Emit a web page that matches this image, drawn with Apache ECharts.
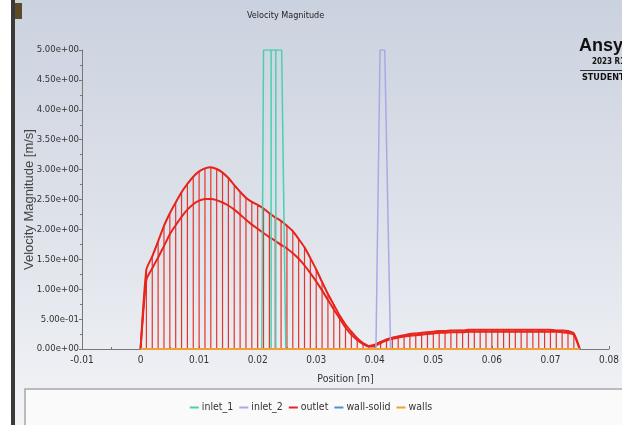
<!DOCTYPE html>
<html>
<head>
<meta charset="UTF-8">
<title>Velocity Magnitude</title>
<script src="https://cdn.jsdelivr.net/npm/echarts@6/dist/echarts.min.js"></script>
</head>
<body style="margin:0;">
<div id="main" style="width:622px;height:425px;"></div>
<script type="text/javascript">
// outlet nodes (position [m]) with two velocity branches [m/s]
var outletPos = [0, 0.001, 0.002, 0.003, 0.004, 0.005, 0.006, 0.007, 0.008, 0.009,
    0.010, 0.011, 0.012, 0.013, 0.014, 0.015, 0.016, 0.017, 0.018, 0.019,
    0.020, 0.021, 0.022, 0.023, 0.024, 0.025, 0.026, 0.027, 0.028, 0.029,
    0.030, 0.031, 0.032, 0.033, 0.034, 0.035, 0.036, 0.037, 0.038, 0.039,
    0.040, 0.041, 0.042, 0.043, 0.044, 0.045, 0.046, 0.047, 0.048, 0.049,
    0.050, 0.051, 0.052, 0.053, 0.054, 0.055, 0.056, 0.057, 0.058, 0.059,
    0.060, 0.061, 0.062, 0.063, 0.064, 0.065, 0.066, 0.067, 0.068, 0.069,
    0.070, 0.071, 0.072, 0.073, 0.074, 0.075];
var outletUpper = [0, 1.33, 1.55, 1.80, 2.06, 2.27, 2.45, 2.62, 2.76, 2.88,
    2.97, 3.02, 3.04, 3.01, 2.95, 2.86, 2.74, 2.63, 2.53, 2.46,
    2.41, 2.35, 2.27, 2.20, 2.14, 2.06, 1.97, 1.84, 1.70, 1.52,
    1.33, 1.12, 0.92, 0.74, 0.56, 0.41, 0.29, 0.18, 0.10, 0.05,
    0.07, 0.12, 0.16, 0.19, 0.21, 0.23, 0.25, 0.26, 0.27, 0.28,
    0.29, 0.30, 0.30, 0.31, 0.31, 0.31, 0.32, 0.32, 0.32, 0.32,
    0.32, 0.32, 0.32, 0.32, 0.32, 0.32, 0.32, 0.32, 0.32, 0.32,
    0.32, 0.31, 0.31, 0.30, 0.26, 0];
var outletLower = [0, 1.16, 1.35, 1.53, 1.72, 1.92, 2.07, 2.21, 2.33, 2.42,
    2.48, 2.51, 2.51, 2.49, 2.45, 2.40, 2.33, 2.25, 2.16, 2.08,
    2.01, 1.94, 1.87, 1.81, 1.74, 1.68, 1.60, 1.51, 1.40, 1.27,
    1.13, 0.98, 0.82, 0.66, 0.51, 0.36, 0.24, 0.15, 0.08, 0.04,
    0.05, 0.10, 0.14, 0.17, 0.19, 0.21, 0.22, 0.23, 0.24, 0.25,
    0.26, 0.27, 0.27, 0.28, 0.28, 0.28, 0.29, 0.29, 0.29, 0.29,
    0.29, 0.29, 0.29, 0.29, 0.29, 0.29, 0.29, 0.29, 0.29, 0.29,
    0.29, 0.29, 0.28, 0.27, 0.24, 0];

var inlet1Pos = [0.0207, 0.0210, 0.0223, 0.0223, 0.0223, 0.0231, 0.0231, 0.0231, 0.0241, 0.0248];
var inlet1Vel = [0, 5, 5, 0, 5, 5, 0, 5, 5, 0];
var inlet2Pos = [0.0402, 0.0409, 0.0417, 0.0427];
var inlet2Vel = [0, 5, 5, 0];
var wallPos = [0, 0.075];
var wallVel = [0, 0];

var legendNames = ['inlet_1', 'inlet_2', 'outlet', 'wall-solid', 'walls'];
var colors = {
    'inlet_1': '#4ccfb0',
    'inlet_2': '#a9a9e6',
    'outlet': '#e8241c',
    'wall-solid': '#4f8fd8',
    'walls': '#f2a030'
};

function pairs(xs, ys) {
    return xs.map(function (x, i) { return [x, ys[i]]; });
}

// outlet drawn node by node: verticals from 0 up to the upper branch
var outletZigzag = [];
for (var i = 0; i < outletPos.length; i += 2) {
    outletZigzag.push([outletPos[i], 0], [outletPos[i], outletUpper[i]]);
    if (i + 1 < outletPos.length) {
        outletZigzag.push([outletPos[i + 1], outletUpper[i + 1]], [outletPos[i + 1], 0]);
    }
}

function sci(v) {
    var s = v.toExponential(2);
    return s.replace(/e([+-])(\d)$/, function (m, sg, d) { return 'e' + sg + '0' + d; });
}

var fnt = "'DejaVu Sans Condensed', 'Liberation Sans Narrow', 'Liberation Sans', sans-serif";

var myChart = echarts.init(document.getElementById('main'));
myChart.setOption({
    animation: false,
    backgroundColor: {
        type: 'linear', x: 0, y: 0, x2: 0, y2: 1,
        colorStops: [
            { offset: 0, color: '#cbd2df' },
            { offset: 0.5, color: '#dde1e9' },
            { offset: 0.9, color: '#eef0f4' },
            { offset: 1, color: '#f4f5f7' }
        ]
    },
    graphic: [
        { type: 'rect', shape: { x: 0, y: 0, width: 11, height: 425 }, style: { fill: '#ffffff' }, z: 100 },
        { type: 'rect', shape: { x: 11, y: 0, width: 4, height: 425 }, style: { fill: '#3a3a3a' }, z: 100 },
        { type: 'rect', shape: { x: 15, y: 3, width: 7, height: 16 }, style: { fill: '#5c4a26' }, z: 100 },
        { type: 'rect', shape: { x: 25, y: 389, width: 600, height: 40 }, style: { fill: '#fafafb', stroke: '#a8a8a8', lineWidth: 1.5 }, z: -1 },
        { type: 'text', left: 247, top: 11, style: { text: 'Velocity Magnitude', fontSize: 9, fontFamily: fnt, fill: '#222' } },
        { type: 'text', left: 579, top: 37, style: { text: 'Ansys', fontSize: 18, fontWeight: 'bold', fontFamily: "'Liberation Sans', sans-serif", fill: '#111' } },
        { type: 'text', left: 592, top: 58, style: { text: '2023 R1', fontSize: 8, fontWeight: 'bold', fontFamily: fnt, fill: '#111' } },
        { type: 'rect', shape: { x: 580, y: 70, width: 42, height: 1 }, style: { fill: '#333' } },
        { type: 'text', left: 582, top: 73, style: { text: 'STUDENT', fontSize: 9, fontWeight: 'bold', fontFamily: fnt, fill: '#111' } }
    ],
    legend: {
        data: legendNames,
        bottom: 7,
        left: 'center',
        icon: 'rect',
        itemWidth: 9,
        itemHeight: 2,
        itemGap: 6,
        textStyle: { fontSize: 10.5, fontFamily: fnt, color: '#333', padding: [0, 0, 0, -2] }
    },
    grid: { left: 82, right: 8, top: 50, bottom: 76 },
    xAxis: {
        type: 'value',
        min: -0.01,
        max: 0.08,
        interval: 0.01,
        name: 'Position [m]',
        nameLocation: 'middle',
        nameGap: 25,
        nameTextStyle: { fontSize: 10.5, fontFamily: fnt, color: '#333' },
        axisLine: { lineStyle: { color: '#777' } },
        axisTick: { inside: true, length: 3, lineStyle: { color: '#777' } },
        minorTick: { show: true, splitNumber: 2, length: 2, lineStyle: { color: '#777' } },
        axisLabel: { fontSize: 10, fontFamily: fnt, color: '#333', margin: 6 },
        splitLine: { show: false }
    },
    yAxis: {
        type: 'value',
        min: 0,
        max: 5,
        interval: 0.5,
        name: 'Velocity Magnitude [m/s]',
        nameLocation: 'middle',
        nameGap: 46,
        nameMoveOverlap: false,
        nameTextStyle: { fontSize: 13, fontFamily: "'Liberation Sans', sans-serif", color: '#444' },
        axisLine: { show: true, onZero: false, lineStyle: { color: '#777' } },
        axisTick: { show: true, length: 3, lineStyle: { color: '#777' } },
        minorTick: { show: true, splitNumber: 2, length: 2, lineStyle: { color: '#777' } },
        axisLabel: { fontSize: 9.5, fontFamily: fnt, color: '#333', margin: 3, formatter: sci },
        splitLine: { show: false }
    },
    series: [
        {
            name: 'outlet', type: 'line', data: outletZigzag, showSymbol: false,
            color: colors['outlet'],
            lineStyle: { width: 1.2, color: '#e6342a' }
        },
        {
            name: 'outlet', type: 'line', data: pairs(outletPos, outletUpper), showSymbol: false,
            color: colors['outlet'], smooth: 0.2,
            lineStyle: { width: 2, color: colors['outlet'] }
        },
        {
            name: 'outlet', type: 'line', data: pairs(outletPos, outletLower), showSymbol: false,
            color: colors['outlet'], smooth: 0.2,
            lineStyle: { width: 2, color: colors['outlet'] }
        },
        {
            name: 'inlet_1', type: 'line', data: pairs(inlet1Pos, inlet1Vel), showSymbol: false,
            color: colors['inlet_1'],
            lineStyle: { width: 1.5, color: colors['inlet_1'] }
        },
        {
            name: 'inlet_2', type: 'line', data: pairs(inlet2Pos, inlet2Vel), showSymbol: false,
            color: colors['inlet_2'],
            lineStyle: { width: 1.5, color: colors['inlet_2'] }
        },
        {
            name: 'wall-solid', type: 'line', data: pairs(wallPos, wallVel), showSymbol: false,
            color: colors['wall-solid'],
            lineStyle: { width: 1.5, color: colors['wall-solid'] }
        },
        {
            name: 'walls', type: 'line', data: pairs(wallPos, wallVel), showSymbol: false,
            color: colors['walls'],
            lineStyle: { width: 2, color: colors['walls'] }
        }
    ]
});
</script>
</body>
</html>
